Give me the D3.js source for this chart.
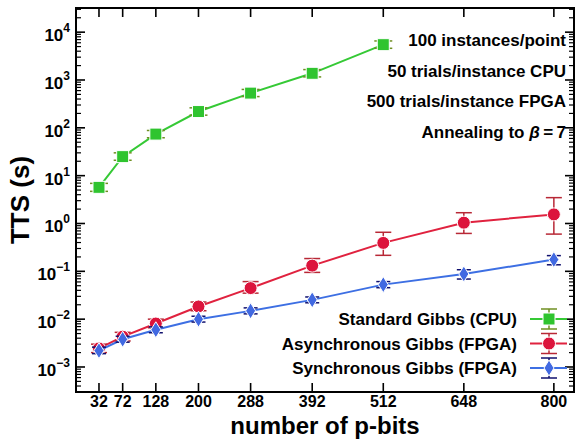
<!DOCTYPE html>
<html>
<head>
<meta charset="utf-8">
<script src="https://cdn.jsdelivr.net/npm/d3@7"></script>
<style>
	body { margin: 0; background: #fff; }
	svg { display: block; font-family: "Liberation Sans", Arial, Helvetica, sans-serif; font-weight: bold; }
</style>
</head>
<body>
<div id="chart"></div>
<script>

// problem sizes (x axis)
var nBits = [32, 72, 128, 200, 288, 392, 512, 648, 800];

// standard gibbs on cpu (only first 7 sizes)
var cpuTTS = [5.7, 25, 74, 219, 532, 1380, 5480];
var cpuLo = [4.7, 21, 62, 184, 450, 1160, 4600];
var cpuHi = [6.9, 30, 88, 262, 635, 1650, 6550];

// asynchronous gibbs on fpga
var asyncTTS = [0.00244, 0.0043, 0.0081, 0.0184, 0.0446, 0.1315, 0.393, 1.04, 1.55];
var asyncLo = [0.0020, 0.0035, 0.0066, 0.0150, 0.035, 0.095, 0.216, 0.62, 0.60];
var asyncHi = [0.0030, 0.0053, 0.0100, 0.0228, 0.061, 0.185, 0.655, 1.68, 3.47];

// synchronous gibbs on fpga
var syncTTS = [0.0022, 0.0038, 0.0060, 0.0100, 0.0149, 0.0253, 0.0527, 0.088, 0.176];
var syncLo = [0.0019, 0.0033, 0.0052, 0.0087, 0.0129, 0.0220, 0.0455, 0.069, 0.137];
var syncHi = [0.0026, 0.0044, 0.0069, 0.0115, 0.0172, 0.0291, 0.0610, 0.108, 0.213];

var seriesNames = ["Standard Gibbs (CPU)", "Asynchronous Gibbs (FPGA)", "Synchronous Gibbs (FPGA)"];
var notes = ["100 instances/point", "50 trials/instance CPU", "500 trials/instance FPGA"];
var yExponents = [-3, -2, -1, 0, 1, 2, 3, 4];

var width = 578, height = 443;
var margin = {top: 8, right: 4, bottom: 51, left: 76};
var innerW = width - margin.left - margin.right,
	innerH = height - margin.top - margin.bottom;

var x = d3.scaleLinear().domain([-6.8, 834]).range([0, innerW]);
var y = d3.scaleLog().domain([3e-4, 3.2e4]).range([innerH, 0]);

function zip(vals, lo, hi) {
	return vals.map(function(v, i) { return {n: nBits[i], v: v, lo: lo[i], hi: hi[i]}; });
}

var series = [
	{name: seriesNames[0], data: zip(cpuTTS, cpuLo, cpuHi), line: "#35c935", fill: "#2fc42f", err: "#6f8f22", shape: "square", cap: 9},
	{name: seriesNames[1], data: zip(asyncTTS, asyncLo, asyncHi), line: "#e0223f", fill: "#dc143c", err: "#b82836", shape: "circle", cap: 8},
	{name: seriesNames[2], data: zip(syncTTS, syncLo, syncHi), line: "#3d6fe3", fill: "#4169e1", err: "#10106e", shape: "diamond", cap: 7}
];

var svg = d3.select("#chart").append("svg")
	.attr("width", width)
	.attr("height", height);

var g = svg.append("g")
	.attr("transform", "translate(" + margin.left + "," + margin.top + ")");

// log ticks: majors with labels, minors 2..9
var minorTicks = [];
yExponents.concat([-4]).forEach(function(e) {
	for (var k = 2; k <= 9; k++) {
		var t = k * Math.pow(10, e);
		if (t >= y.domain()[0] && t <= y.domain()[1]) minorTicks.push(t);
	}
});
var majorTicks = yExponents.map(function(e) { return Math.pow(10, e); });

function drawYTicks(xPos, dir) {
	g.selectAll(null).data(minorTicks).enter().append("line")
		.attr("x1", xPos).attr("x2", xPos + dir * 5)
		.attr("y1", function(d) { return y(d); }).attr("y2", function(d) { return y(d); })
		.attr("stroke", "#000").attr("stroke-width", 1.2);
	g.selectAll(null).data(majorTicks).enter().append("line")
		.attr("x1", xPos).attr("x2", xPos + dir * 9)
		.attr("y1", function(d) { return y(d); }).attr("y2", function(d) { return y(d); })
		.attr("stroke", "#000").attr("stroke-width", 1.6);
}
drawYTicks(0, 1);
drawYTicks(innerW, -1);

// x ticks on bottom and top
function drawXTicks(yPos, dir) {
	g.selectAll(null).data(nBits).enter().append("line")
		.attr("x1", function(d) { return x(d); }).attr("x2", function(d) { return x(d); })
		.attr("y1", yPos).attr("y2", yPos + dir * 9)
		.attr("stroke", "#000").attr("stroke-width", 1.6);
}
drawXTicks(innerH, -1);
drawXTicks(0, 1);

// frame
g.append("rect")
	.attr("width", innerW).attr("height", innerH)
	.attr("fill", "none").attr("stroke", "#000").attr("stroke-width", 2);

// y tick labels 10^k
var yLab = g.selectAll(".ylab").data(yExponents).enter().append("text")
	.attr("class", "ylab")
	.attr("x", -6)
	.attr("y", function(d) { return y(Math.pow(10, d)) + 9; })
	.attr("text-anchor", "end")
	.style("font-size", "17px");
yLab.append("tspan").text("10");
yLab.append("tspan")
	.attr("dy", -9)
	.style("font-size", "12px")
	.text(function(d) { return d < 0 ? "\u2212" + (-d) : d; });

// x tick labels
g.selectAll(".xlab").data(nBits).enter().append("text")
	.attr("class", "xlab")
	.attr("x", function(d) { return x(d); })
	.attr("y", innerH + 15)
	.attr("text-anchor", "middle")
	.style("font-size", "16px")
	.text(function(d) { return d; });

// axis titles
svg.append("text")
	.attr("x", margin.left + innerW / 2)
	.attr("y", 434)
	.attr("text-anchor", "middle")
	.style("font-size", "24px")
	.text("number of p-bits");

svg.append("text")
	.attr("transform", "translate(29," + (margin.top + innerH / 2) + ") rotate(-90)")
	.attr("text-anchor", "middle")
	.style("font-size", "26px")
	.text("TTS (s)");

function drawMarker(sel, shape, fill) {
	if (shape === "square") {
		sel.append("rect").attr("x", -6).attr("y", -6).attr("width", 12).attr("height", 12)
			.attr("fill", fill).attr("stroke", "#fff").attr("stroke-width", 1);
	} else if (shape === "circle") {
		sel.append("circle").attr("r", 6.5)
			.attr("fill", fill).attr("stroke", "#fff").attr("stroke-width", 1);
	} else {
		sel.append("path").attr("d", "M0,-8L5,0L0,8L-5,0Z")
			.attr("fill", fill).attr("stroke", "#fff").attr("stroke-width", 1);
	}
}

var line = d3.line()
	.x(function(d) { return x(d.n); })
	.y(function(d) { return y(d.v); });

series.forEach(function(s) {
	var sg = g.append("g");

	sg.append("path")
		.datum(s.data)
		.attr("d", line)
		.attr("fill", "none")
		.attr("stroke", s.line)
		.attr("stroke-width", 2);

	// error bars
	var eb = sg.selectAll(null).data(s.data).enter().append("g")
		.attr("transform", function(d) { return "translate(" + x(d.n) + ",0)"; });
	eb.append("line")
		.attr("y1", function(d) { return y(d.lo); }).attr("y2", function(d) { return y(d.hi); })
		.attr("stroke", s.err).attr("stroke-width", 1.5);
	eb.append("line")
		.attr("x1", -s.cap).attr("x2", s.cap)
		.attr("y1", function(d) { return y(d.hi); }).attr("y2", function(d) { return y(d.hi); })
		.attr("stroke", s.err).attr("stroke-width", 1.5);
	eb.append("line")
		.attr("x1", -s.cap).attr("x2", s.cap)
		.attr("y1", function(d) { return y(d.lo); }).attr("y2", function(d) { return y(d.lo); })
		.attr("stroke", s.err).attr("stroke-width", 1.5);

	var mk = sg.selectAll(null).data(s.data).enter().append("g")
		.attr("transform", function(d) { return "translate(" + x(d.n) + "," + y(d.v) + ")"; });
	drawMarker(mk, s.shape, s.fill);
});

// annotation text, top right
var noteG = g.append("g").style("font-size", "17px").attr("text-anchor", "end");
notes.forEach(function(t, i) {
	noteG.append("text")
		.attr("x", innerW - 8)
		.attr("y", 38 + i * 30.5)
		.text(t);
});
var beta = noteG.append("text")
	.attr("x", innerW - 8)
	.attr("y", 38 + 3 * 30.5);
beta.append("tspan").text("Annealing to ");
beta.append("tspan").style("font-style", "italic").text("\u03b2");
beta.append("tspan").text("\u2009=\u20097");

// legend, bottom right
var legend = g.append("g");
series.forEach(function(s, i) {
	var ly = 311 + i * 24.5;
	legend.append("text")
		.attr("x", 441)
		.attr("y", ly + 6)
		.attr("text-anchor", "end")
		.style("font-size", "17px")
		.text(s.name);
	var sym = legend.append("g").attr("transform", "translate(473," + ly + ")");
	sym.append("line").attr("x1", -19).attr("x2", 18)
		.attr("stroke", s.line).attr("stroke-width", 2);
	sym.append("line").attr("y1", -10).attr("y2", 10)
		.attr("stroke", s.err).attr("stroke-width", 1.5);
	sym.append("line").attr("x1", -8).attr("x2", 8).attr("y1", -10).attr("y2", -10)
		.attr("stroke", s.err).attr("stroke-width", 1.5);
	sym.append("line").attr("x1", -8).attr("x2", 8).attr("y1", 10).attr("y2", 10)
		.attr("stroke", s.err).attr("stroke-width", 1.5);
	drawMarker(sym, s.shape, s.fill);
});

</script>
</body>
</html>
